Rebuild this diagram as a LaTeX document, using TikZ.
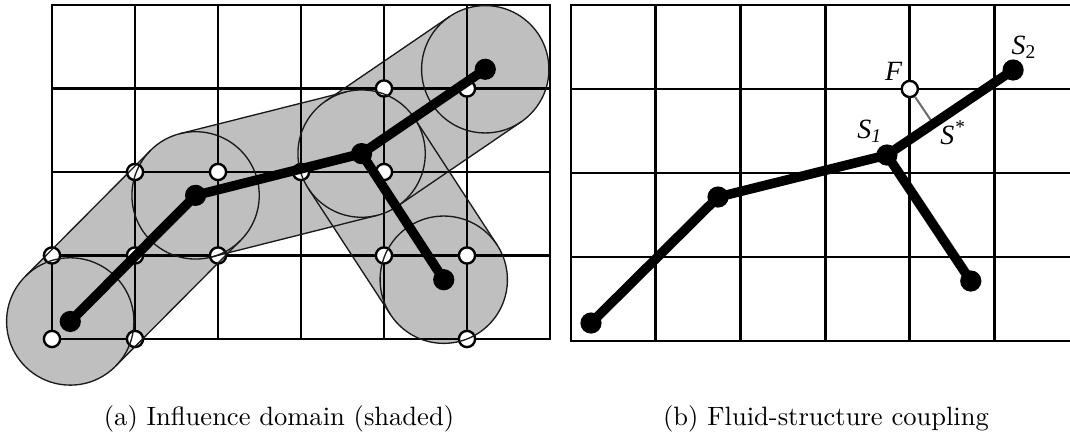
\documentclass[tikz,border=0pt]{standalone}
\usepackage{fontspec}
\newfontfamily\labfont{Liberation Serif}
\usetikzlibrary{calc}
\definecolor{domaingray}{gray}{0.75}
\definecolor{edgecol}{gray}{0.1}
\definecolor{probecol}{gray}{0.42}
\tikzset{
  gridline/.style={line width=1.1pt, black, line cap=rect},
  domainedge/.style={draw=edgecol, line width=0.5pt},
  domainfill/.style={fill=domaingray, draw=none},
  fluid/.style={circle, fill=white, draw=black, line width=0.9pt, inner sep=0pt, minimum size=6.1pt},
  solidnode/.style={circle, fill=black, inner sep=0pt, minimum size=8pt},
  struct/.style={line width=3.6pt, black, line join=round},
  probe/.style={line width=0.75pt, draw=probecol},
  lab/.style={font=\labfont\itshape\fontsize{10.5}{12}\selectfont, inner sep=0pt},
  captext/.style={font=\fontsize{10}{12}\selectfont, anchor=base, inner sep=0pt}
}
\begin{document}
\begin{tikzpicture}[x=0.377pt, y=-0.377pt]
\useasboundingbox (0,0) rectangle (1070,433);

% ---------------- panel (a) ----------------
\begin{scope}[shift={(19.604pt,-127.80pt)}, x=31.29pt, y=31.48pt]
  \def\R{24pt}
  \coordinate (a0) at (0.22,0.21);
  \coordinate (a1) at (1.73,1.72);
  \coordinate (a2) at (3.73,2.22);
  \coordinate (a3) at (5.22,3.23);
  \coordinate (a4) at (4.72,0.71);
  % shaded influence domain
  \foreach \p/\q in {a0/a1,a1/a2,a2/a3,a2/a4}
    \path[domainfill] ($(\p)!\R!90:(\q)$) -- ($(\q)!\R!-90:(\p)$) -- ($(\q)!\R!90:(\p)$) -- ($(\p)!\R!-90:(\q)$) -- cycle;
  \foreach \p in {a0,a1,a2,a3,a4}
    \path[domainfill] (\p) circle[radius=\R];
  % grid
  \foreach \i in {0,...,6} \draw[gridline] (\i,0) -- (\i,4);
  \foreach \j in {0,...,4} \draw[gridline] (0,\j) -- (6,\j);
  % fluid nodes
  \foreach \i/\j [count=\k] in {1/2,2/2,3/2,4/3,5/3,4/2,0/1,1/1,2/1,4/1,5/1,0/0,1/0,5/0}
    \node[fluid] (fa\k) at (\i,\j) {};
  % outlines of the domain
  \foreach \p/\q in {a0/a1,a1/a2,a2/a3,a2/a4}
    \draw[domainedge] ($(\p)!\R!90:(\q)$) -- ($(\q)!\R!-90:(\p)$)
                      ($(\q)!\R!90:(\p)$) -- ($(\p)!\R!-90:(\q)$);
  \foreach \p in {a0,a1,a2,a3,a4}
    \draw[domainedge] (\p) circle[radius=\R];
  % structure
  \foreach \p in {0,1,2,3,4}
    \node[solidnode] (na\p) at (a\p) {};
  \draw[struct] (na0.center) -- (na1.center) -- (na2.center) -- (na3.center);
  \draw[struct] (na2.center) -- (na4.center);
\end{scope}

% ---------------- panel (b) ----------------
\begin{scope}[shift={(215.27pt,-128.56pt)}, x=31.93pt, y=31.67pt]
  \foreach \i in {0,...,6} \draw[gridline] (\i,0) -- (\i,4);
  \foreach \j in {0,...,4} \draw[gridline] (0,\j) -- (6,\j);
  \node[fluid] (nF) at (4,3) {};
  \node[solidnode] (nb0) at (0.236,0.214) {};
  \node[solidnode] (nb1) at (1.736,1.714) {};
  \node[solidnode] (nb2) at (3.73,2.214) {};
  \node[solidnode] (nb3) at (5.22,3.226) {};
  \node[solidnode] (nb4) at (4.72,0.714) {};
  \coordinate (sstar) at ($(nb2.center)!(nF.center)!(nb3.center)$);
  \draw[probe] (nF) -- (sstar);
  \draw[struct] (nb0.center) -- (nb1.center) -- (nb2.center) -- (nb3.center);
  \draw[struct] (nb2.center) -- (nb4.center);
  \node[lab] (lF) at (3.81,3.214) {F};
  \node[lab] (lS1) at (3.53,2.50) {S\textsubscript{1}};
  \node[lab] (lS2) at (5.35,3.50) {S\textsubscript{\upshape 2}};
  \node[lab] (lSs) at (4.51,2.48) {S\textsuperscript{*}};
\end{scope}

% ---------------- captions ----------------
\node[captext] (capa) at (279,425) {(a) Influence domain (shaded)};
\node[captext] (capb) at (826,425) {(b) Fluid-structure coupling};
\end{tikzpicture}
\end{document}
